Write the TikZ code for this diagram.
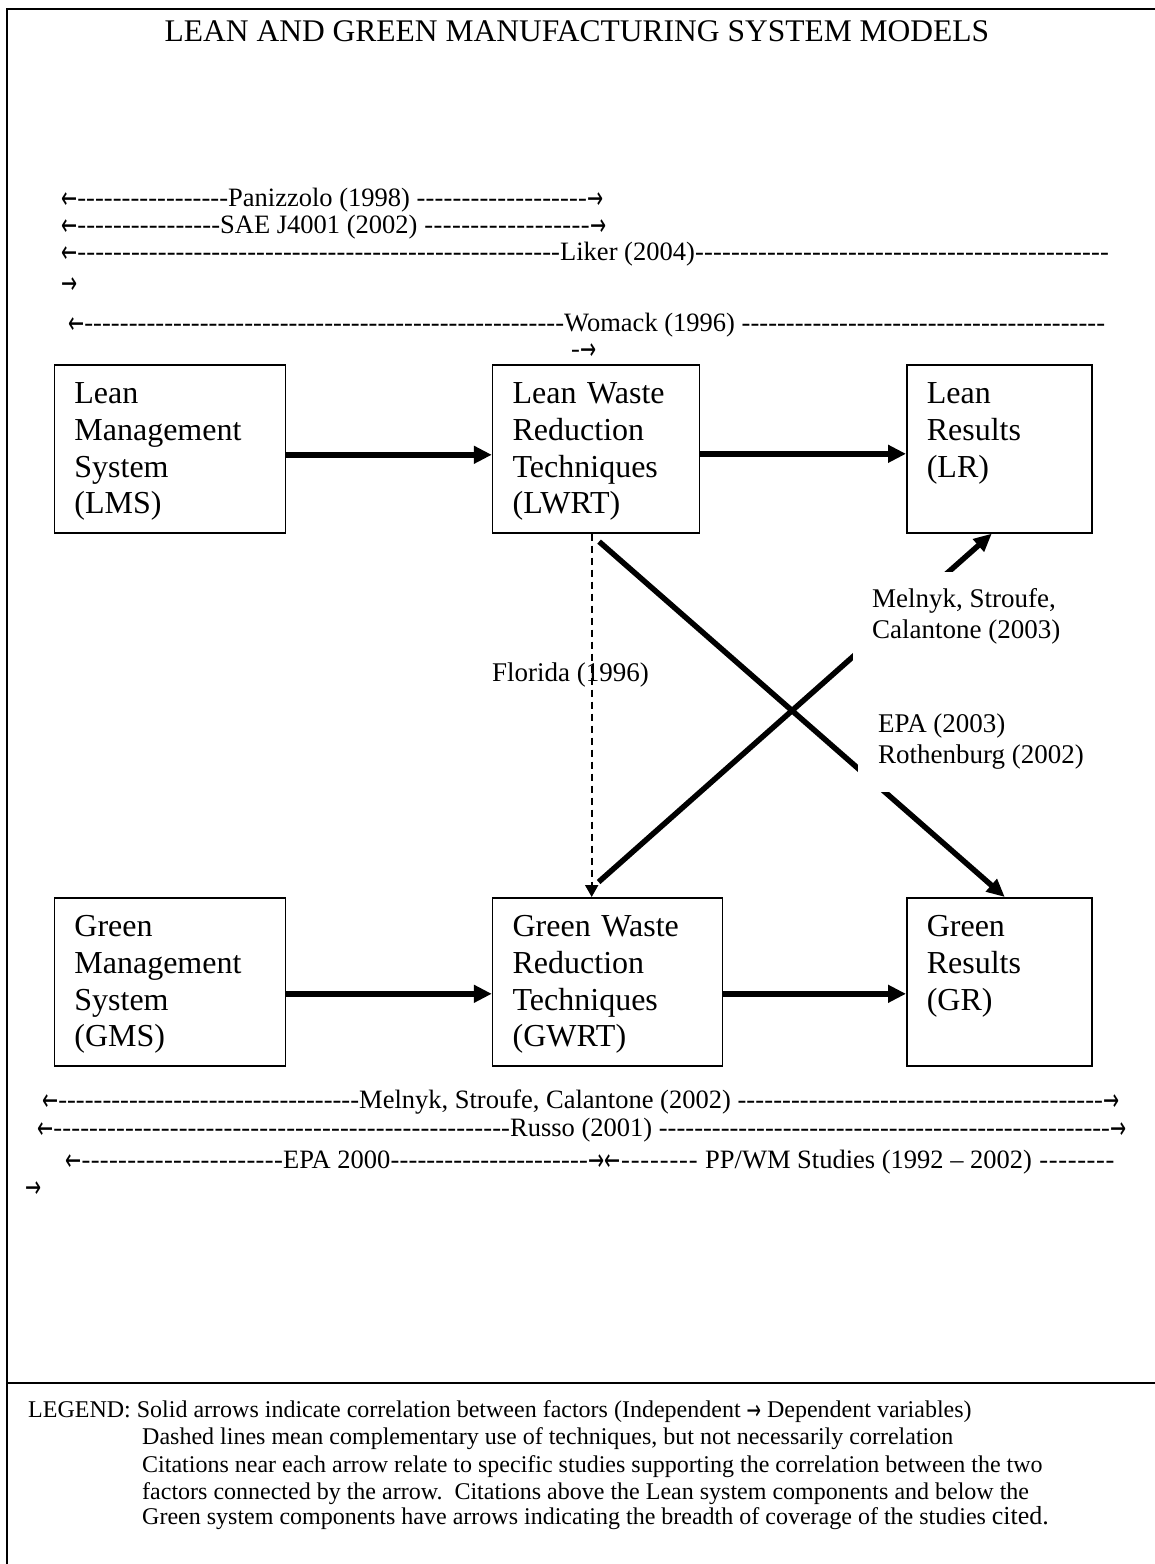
\documentclass[tikz,border=0pt]{standalone}
\usepackage{fontspec}
\usepackage{graphicx}
\setmainfont{Liberation Serif}
\newfontfamily\arrowfont{DejaVu Sans}
\usetikzlibrary{arrows.meta,calc}

% arrow glyphs used inside the citation ranges and the legend
\newcommand\rarr{\raisebox{-2.5pt}{\scalebox{0.64}[1]{\arrowfont\fontsize{30}{30}\selectfont →}}}
\newcommand\larr{\raisebox{-2.5pt}{\scalebox{0.64}[1]{\arrowfont\fontsize{30}{30}\selectfont ←}}}
\newcommand\legarr{\raisebox{-2pt}{\scalebox{0.64}[1]{\arrowfont\fontsize{27}{27}\selectfont →}}}
% a run of hyphens stretched to fill the space it is given
\newcommand\dashrun{\xleaders\hbox{-}\hfill}
% \citerow{total width}{offset of the citation}{citation}
\newcommand\citerow[3]{\hbox to #1{\hbox to #2{\larr\dashrun}#3\dashrun\rarr}}
\newcommand\citeopen[3]{\hbox to #1{\hbox to #2{\larr\dashrun}#3\dashrun}}

\tikzset{
  frame/.style={line width=1.6pt},
  blk/.style={draw, line width=1.6pt, anchor=north west, inner xsep=20pt,
    inner ysep=0pt, align=left, text height=39pt, text depth=129pt,
    font=\fontsize{32}{36.6}\selectfont},
  flow/.style={line width=6pt, -{Triangle[length=18pt,width=17pt]}},
  diag/.style={line width=5.5pt, -{Triangle[length=18pt,width=16pt]}},
  link/.style={line width=2pt, dash pattern=on 7pt off 5pt,
    -{Triangle[length=12pt,width=13pt]}},
  lbl/.style={inner sep=0pt, font=\fontsize{27}{31}\selectfont},
  cite/.style={anchor=base west, inner sep=0pt, font=\fontsize{26.5}{30}\selectfont},
  legend/.style={anchor=base west, inner sep=0pt, font=\fontsize{24}{27}\selectfont},
}

\begin{document}
\begin{tikzpicture}[x=1pt,y=-1pt]
\useasboundingbox (0,0) rectangle (1155,1564);

% outer frame and legend separator
\draw[frame] (7,9) rectangle (1170,1580);
\draw[line width=2pt] (7,1383) -- (1170,1383);

% title
\node[anchor=base, inner sep=0pt, font=\fontsize{31.5}{36}\selectfont] (title) at (577,41)
  {LEAN AND GREEN MANUFACTURING SYSTEM MODELS};

% citation ranges above the lean components
\node[cite] (panizzolo) at (61,206) {\citerow{542pt}{167pt}{Panizzolo (1998)\ }};
\node[cite] (sae) at (61,233) {\citerow{545pt}{159pt}{SAE J4001 (2002)\ }};
\node[cite] (liker) at (61,260) {\citeopen{1048pt}{499pt}{Liker (2004)}};
\node[cite] (likerend) at (61,291) {\rarr};
\node[cite] (womack) at (68,331) {\citeopen{1037pt}{496pt}{Womack (1996)\ }};
\node[cite] (womackend) at (571,357) {-\rarr};

% system components
\node[blk, text width=191pt] (lms) at (53.6,364) {Lean\\Management\\System\\(LMS)};
\node[blk, text width=167pt] (lwrt) at (491.8,364) {Lean Waste\\Reduction\\Techniques\\(LWRT)};
\node[blk, text width=145pt] (lr) at (906,364) {Lean\\Results\\(LR)};
\node[blk, text width=191pt] (gms) at (53.6,897) {Green\\Management\\System\\(GMS)};
\node[blk, text width=190pt] (gwrt) at (491.8,897) {Green Waste\\Reduction\\Techniques\\(GWRT)};
\node[blk, text width=145pt] (gr) at (906,897) {Green\\Results\\(GR)};

% correlations
\draw[flow] ($(lms.east)+(0,6)$) -- ($(lwrt.west)+(0,6)$);
\draw[flow] ($(lwrt.east)+(0,5)$) -- ($(lr.west)+(0,5)$);
\draw[flow] ($(gms.east)+(0,12)$) -- ($(gwrt.west)+(0,12)$);
\draw[flow] ($(gwrt.east)+(0,12)$) -- ($(gr.west)+(0,12)$);
\draw[diag] ($(lwrt.south)+(3,8)$) -- ($(gr.north)+(5.5,0)$);
\draw[diag] ($(gwrt.north)+(-9,-15)$) -- ($(lr.south)+(-7.5,0)$);

% complementary use of techniques
\coordinate (dtop) at ($(lwrt.south)+(-4.4,0)$);
\coordinate (dbot) at (dtop |- gwrt.north);
\draw[link] (dtop) -- (dbot);

% citations along the arrows
\node[lbl, anchor=base west] (florida) at (492,681) {Florida (1996)};
\node[lbl, fill=white, anchor=north west, inner xsep=19pt, inner ysep=16.5pt, align=left]
  (msc03) at (853,572) {Melnyk, Stroufe,\\Calantone (2003)};
\node[lbl, fill=white, anchor=south west, inner xsep=20pt, inner ysep=22pt, align=left]
  (epa03) at (858,792) {EPA (2003)\\Rothenburg (2002)};

% citation ranges below the green components
\node[cite] (melnyk02) at (42,1108) {\citerow{1077pt}{317pt}{Melnyk, Stroufe, Calantone (2002)\ }};
\node[cite] (russo) at (37,1136) {\citerow{1089pt}{473pt}{Russo (2001)\ }};
\node[cite] (epa00) at (65,1168) {\citerow{539pt}{218pt}{EPA 2000}\hbox to 101pt{\larr\dashrun\ }\hbox to 410pt{PP/WM Studies (1992 – 2002)\ \dashrun}};
\node[cite] (ppwmend) at (25,1195) {\rarr};

% legend
\node[legend] (leg1) at (28,1417) {LEGEND: Solid arrows indicate correlation between factors (Independent \legarr\ Dependent variables)};
\node[legend] (leg2) at (142,1444) {Dashed lines mean complementary use of techniques, but not necessarily correlation};
\node[legend] (leg3) at (142,1472) {Citations near each arrow relate to specific studies supporting the correlation between the two};
\node[legend] (leg4) at (142,1499) {factors connected by the arrow.\ \ Citations above the Lean system components and below the};
\node[legend] (leg5) at (142,1524) {Green system components have arrows indicating the breadth of coverage of the studies {\fontsize{26}{30}\selectfont cited.}};
\end{tikzpicture}
\end{document}
